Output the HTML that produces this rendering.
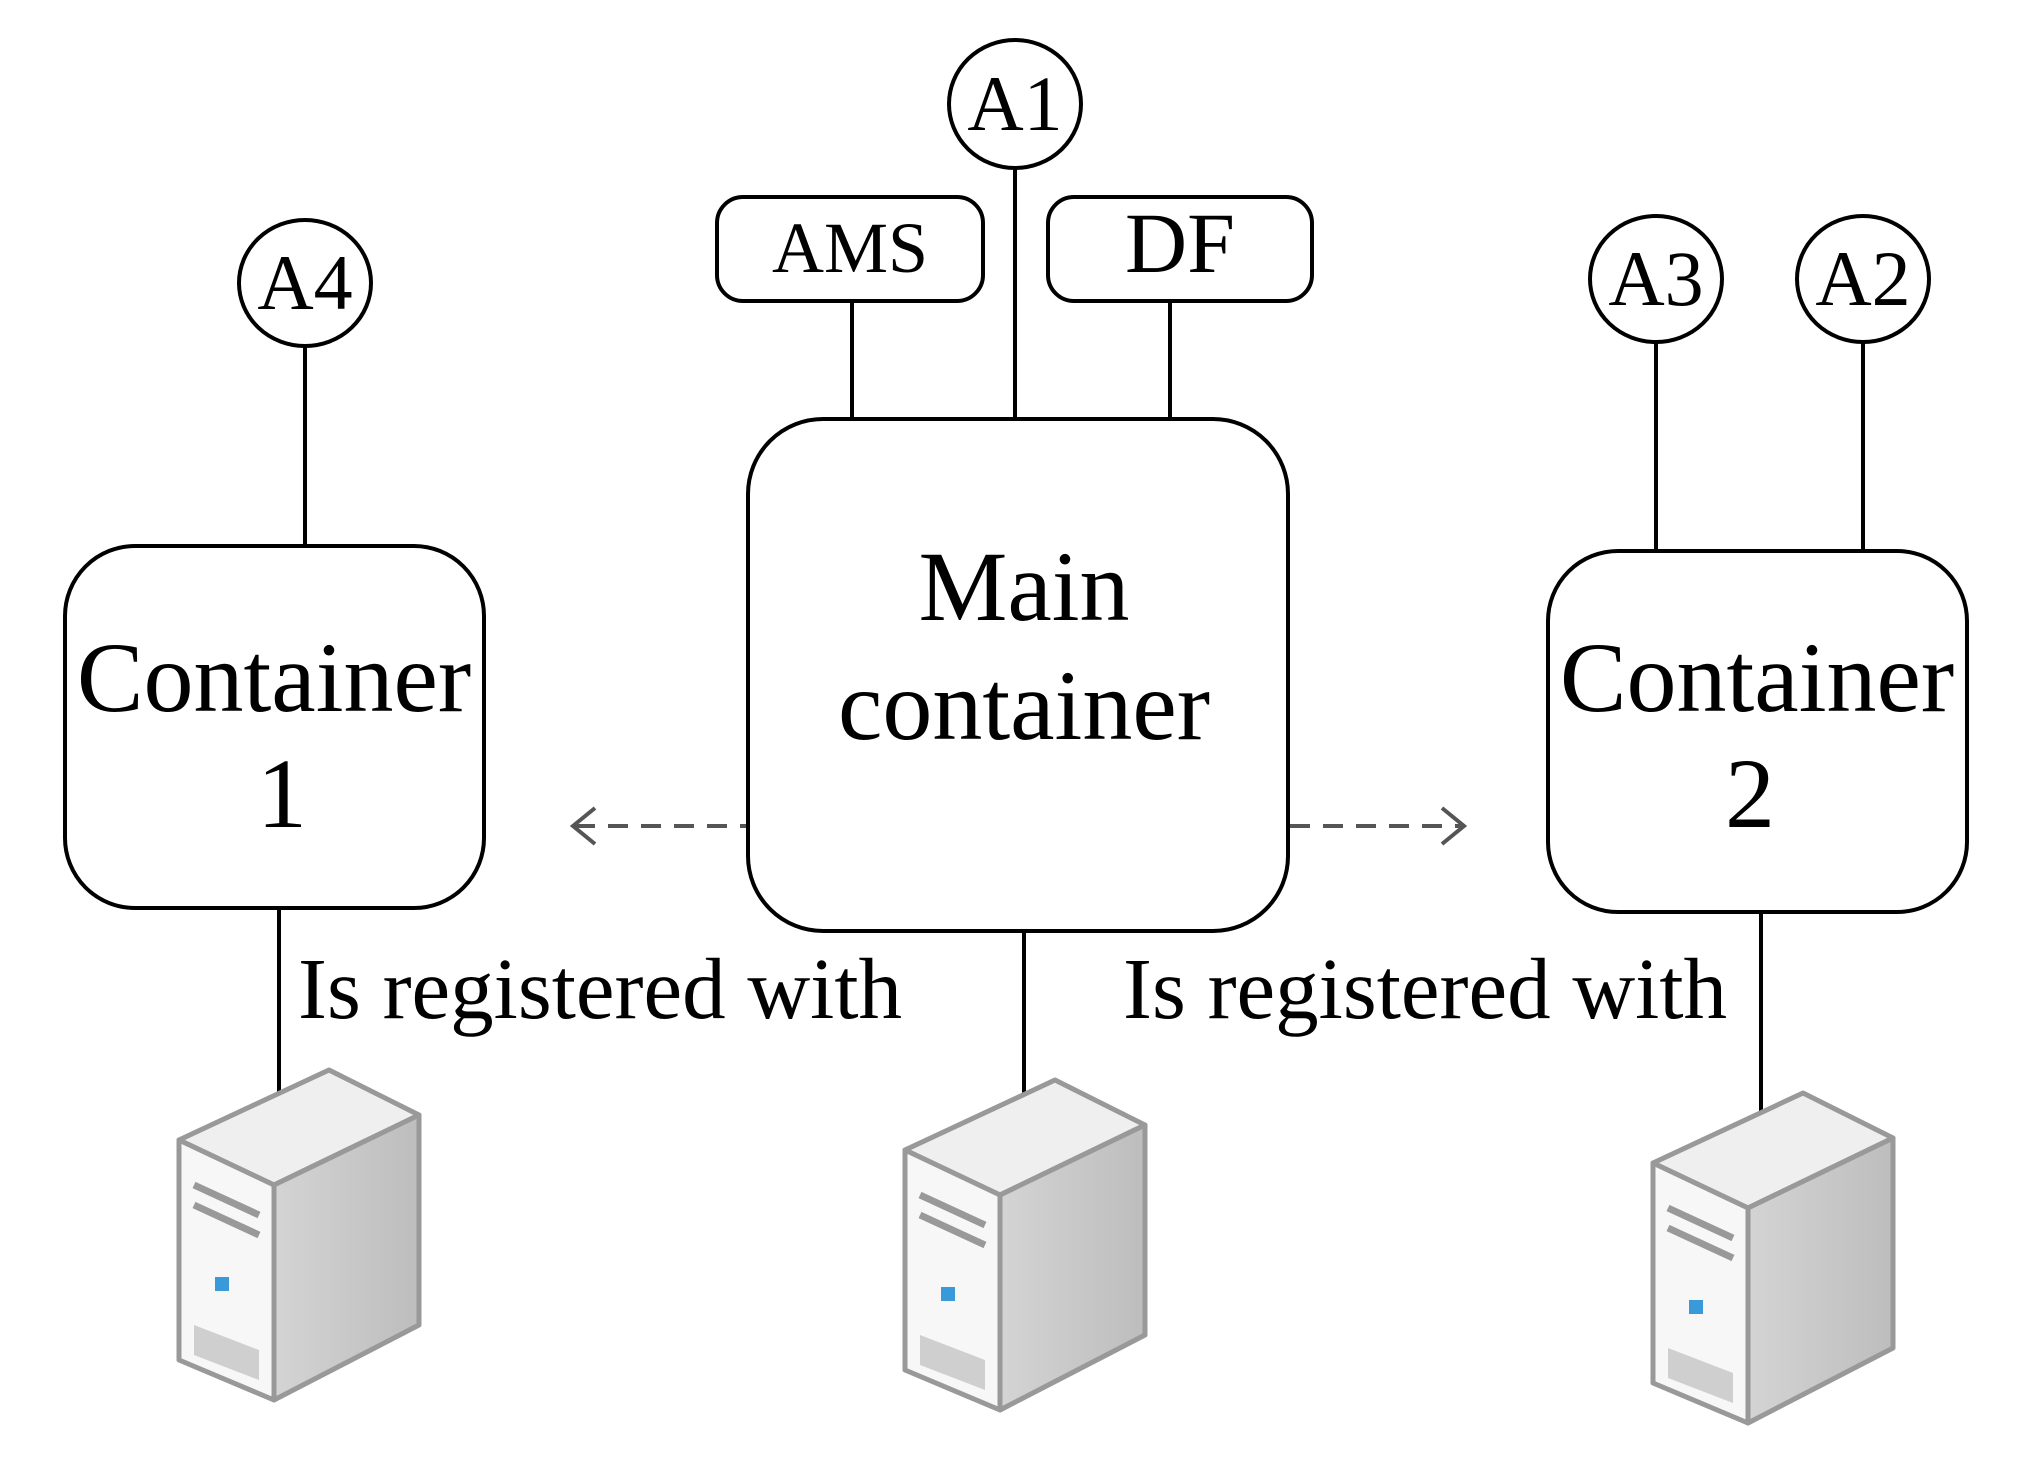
<!DOCTYPE html>
<html><head><meta charset="utf-8"><style>
html,body{margin:0;padding:0;background:#fff;}
svg{display:block;}
text{font-family:"Liberation Serif",serif;fill:#000;}
</style></head><body>
<svg width="2033" height="1462" viewBox="0 0 2033 1462" xmlns="http://www.w3.org/2000/svg">
<defs>
<linearGradient id="side" x1="0" y1="0" x2="1" y2="0"><stop offset="0" stop-color="#d4d4d4"/><stop offset="1" stop-color="#bdbdbd"/></linearGradient>
<g id="srv">
 <polygon points="0,70 150,0 240,45 95,115" fill="#efefef" stroke="#999" stroke-width="5" stroke-linejoin="round"/>
 <polygon points="95,115 240,45 240,255 95,330" fill="url(#side)" stroke="#999" stroke-width="5" stroke-linejoin="round"/>
 <polygon points="0,70 95,115 95,330 0,290" fill="#f7f7f7" stroke="#999" stroke-width="5" stroke-linejoin="round"/>
 <line x1="15" y1="115" x2="80" y2="145" stroke="#999" stroke-width="7"/>
 <line x1="15" y1="135" x2="80" y2="165" stroke="#999" stroke-width="7"/>
 <rect x="36" y="207" width="14" height="14" fill="#3a9ad9"/>
 <polygon points="15,255 80,280 80,310 15,285" fill="#cfcfcf"/>
</g>
</defs>
<g stroke="#000" stroke-width="4" fill="none">
 <!-- connectors -->
 <line x1="852" y1="301" x2="852" y2="419"/>
 <line x1="1015" y1="169" x2="1015" y2="419"/>
 <line x1="1170" y1="301" x2="1170" y2="419"/>
 <line x1="305" y1="346" x2="305" y2="546"/>
 <line x1="1656" y1="342" x2="1656" y2="551"/>
 <line x1="1863" y1="342" x2="1863" y2="551"/>
 <line x1="279" y1="908" x2="279" y2="1102"/>
 <line x1="1024" y1="931" x2="1024" y2="1102"/>
 <line x1="1761" y1="912" x2="1761" y2="1118"/>
 <!-- circles -->
 <ellipse cx="1015" cy="104" rx="66" ry="64" fill="#fff"/>
 <ellipse cx="305" cy="283" rx="66" ry="63" fill="#fff"/>
 <ellipse cx="1656" cy="279" rx="66" ry="63" fill="#fff"/>
 <ellipse cx="1863" cy="279" rx="66" ry="63" fill="#fff"/>
 <!-- boxes -->
 <rect x="717" y="197" width="266" height="104" rx="26" fill="#fff"/>
 <rect x="1048" y="197" width="264" height="104" rx="26" fill="#fff"/>
 <rect x="748" y="419" width="540" height="512" rx="75" fill="#fff"/>
 <rect x="65" y="546" width="419" height="362" rx="70" fill="#fff"/>
 <rect x="1548" y="551" width="419" height="361" rx="70" fill="#fff"/>
</g>
<g stroke="#555" stroke-width="4" fill="none">
 <line x1="575" y1="826" x2="746" y2="826" stroke-dasharray="20,13"/>
 <polyline points="595,808 573,826 595,844"/>
 <line x1="1290" y1="826" x2="1462" y2="826" stroke-dasharray="20,13"/>
 <polyline points="1442,808 1464,826 1442,844"/>
</g>
<g text-anchor="middle">
 <text x="1015" y="130" font-size="78">A1</text>
 <text x="305" y="309" font-size="78">A4</text>
 <text x="1656" y="305" font-size="78">A3</text>
 <text x="1863" y="305" font-size="78">A2</text>
 <text x="850" y="272" font-size="72">AMS</text>
 <text x="1180" y="272" font-size="86">DF</text>
 <text x="1024" y="620" font-size="100">Main</text>
 <text x="1024" y="739" font-size="100">container</text>
 <text x="274" y="711" font-size="100">Container</text>
 <text x="282" y="827" font-size="100">1</text>
 <text x="1757" y="711" font-size="100">Container</text>
 <text x="1750" y="827" font-size="100">2</text>
</g>
<text x="298" y="1018" font-size="87">Is registered with</text>
<text x="1123" y="1018" font-size="87">Is registered with</text>
<use href="#srv" transform="translate(179,1070)"/>
<use href="#srv" transform="translate(905,1080)"/>
<use href="#srv" transform="translate(1653,1093)"/>
</svg>
</body></html>
